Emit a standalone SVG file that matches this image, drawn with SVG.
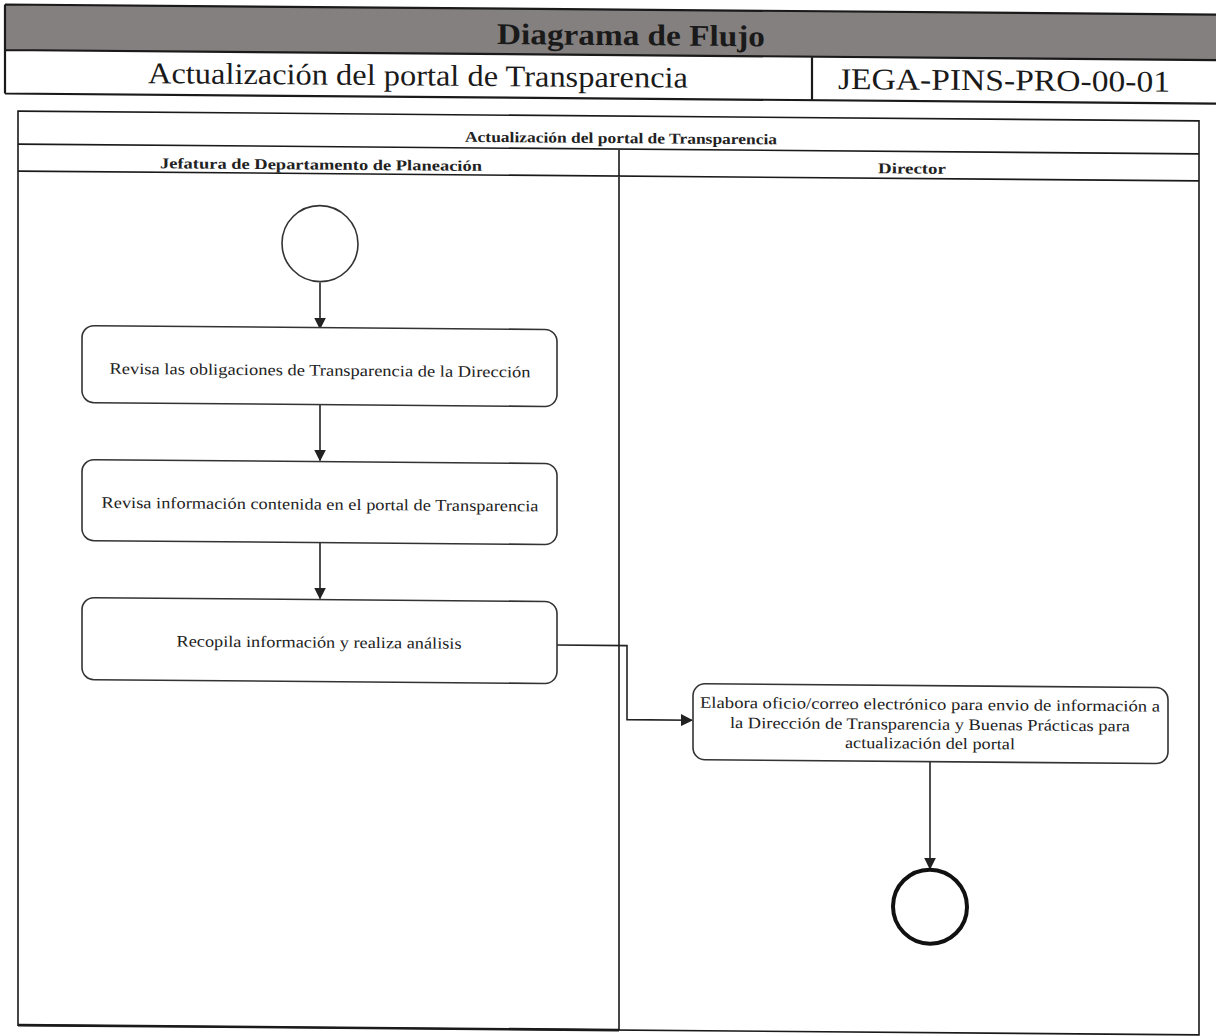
<svg xmlns="http://www.w3.org/2000/svg" width="1216" height="1036" viewBox="0 0 1216 1036">
  <style>
    .frame { fill: none; stroke: #1a1a1a; }
    .hdr { font-family: "Liberation Serif", "Times New Roman", serif; fill: #1a1a1a; text-anchor: middle; }
    .lane { font-family: "Liberation Serif", "Times New Roman", serif; font-size: 15px; font-weight: bold; fill: #222; text-anchor: middle; }
    .act rect { fill: #fff; stroke: #333; stroke-width: 1.6; }
    .act text { font-family: "Liberation Serif", "Times New Roman", serif; font-size: 16px; fill: #222; text-anchor: middle; }
    .edge { fill: none; stroke: #222; stroke-width: 1.6; }
  </style>
  <defs>
    <marker id="arrow" viewBox="0 0 12 12" refX="11" refY="6" markerWidth="12" markerHeight="12" markerUnits="userSpaceOnUse" orient="auto">
      <path d="M0,0 L12,6 L0,12 Z" fill="#222"/>
    </marker>
  </defs>
  <rect width="1216" height="1036" fill="#fff"/>

  <!-- whole sheet is slightly slanted -->
  <g transform="matrix(1 0.0083 0 1 0 -5.05)">

    <!-- document header -->
    <g id="header">
      <rect x="5" y="9.5" width="1220" height="45.5" fill="#84807f"/>
      <path class="frame" stroke-width="2.2" d="M5,9.5 H1225 M5,55 H1225 M5,98.5 H1225 M5,9.5 V98.5 M812,55 V98.5"/>
      <text class="hdr" x="631" y="45" font-size="30" font-weight="bold" textLength="268" lengthAdjust="spacingAndGlyphs">Diagrama de Flujo</text>
      <text class="hdr" x="418" y="87" font-size="30" textLength="540" lengthAdjust="spacingAndGlyphs">Actualización del portal de Transparencia</text>
      <text class="hdr" x="1004" y="87" font-size="30" textLength="332" lengthAdjust="spacingAndGlyphs">JEGA-PINS-PRO-00-01</text>
    </g>

    <!-- swimlane pool -->
    <g id="pool">
      <rect class="frame" x="18" y="116" width="1181" height="914" stroke-width="1.6"/>
      <path class="frame" stroke-width="1.6" d="M18,149 H1199 M18,176 H1199 M619,149 V1030"/>
      <path class="frame" stroke-width="2.6" d="M18,1030 H619"/>
      <text class="lane" x="621" y="143" textLength="312" lengthAdjust="spacingAndGlyphs">Actualización del portal de Transparencia</text>
      <text class="lane" x="321" y="172" textLength="322" lengthAdjust="spacingAndGlyphs">Jefatura de Departamento de Planeación</text>
      <text class="lane" x="912" y="171" textLength="68" lengthAdjust="spacingAndGlyphs">Director</text>
    </g>

    <!-- connectors -->
    <g id="connectors">
      <path class="edge" d="M320,285 V331" marker-end="url(#arrow)"/>
      <path class="edge" d="M320,407 V463" marker-end="url(#arrow)"/>
      <path class="edge" d="M320,545 V601" marker-end="url(#arrow)"/>
      <path class="edge" d="M557,645.5 H627 V719.5 H692" marker-end="url(#arrow)"/>
      <path class="edge" d="M930,759 V866" marker-end="url(#arrow)"/>
    </g>

    <g id="start">
      <circle cx="320" cy="246" r="38" fill="#fff" stroke="#333" stroke-width="1.6"/>
    </g>

    <g id="act1" class="act">
      <rect x="82" y="330" width="475" height="77" rx="12"/>
      <text x="320" y="378" textLength="421" lengthAdjust="spacingAndGlyphs">Revisa las obligaciones de Transparencia de la Dirección</text>
    </g>

    <g id="act2" class="act">
      <rect x="82" y="464" width="475" height="81" rx="12"/>
      <text x="320" y="512" textLength="437" lengthAdjust="spacingAndGlyphs">Revisa información contenida en el portal de Transparencia</text>
    </g>

    <g id="act3" class="act">
      <rect x="82" y="602" width="475" height="82" rx="12"/>
      <text x="319" y="650" textLength="285" lengthAdjust="spacingAndGlyphs">Recopila información y realiza análisis</text>
    </g>

    <g id="act4" class="act">
      <rect x="693" y="683" width="475" height="76" rx="12"/>
      <text x="930" y="707" textLength="460" lengthAdjust="spacingAndGlyphs">Elabora oficio/correo electrónico para envio de información  a</text>
      <text x="930" y="727" textLength="400" lengthAdjust="spacingAndGlyphs">la Dirección de Transparencia y Buenas Prácticas para</text>
      <text x="930" y="746" textLength="170" lengthAdjust="spacingAndGlyphs">actualización del portal</text>
    </g>

    <g id="end">
      <circle cx="930" cy="904" r="37" fill="#fff" stroke="#111" stroke-width="4"/>
    </g>
  </g>
</svg>
